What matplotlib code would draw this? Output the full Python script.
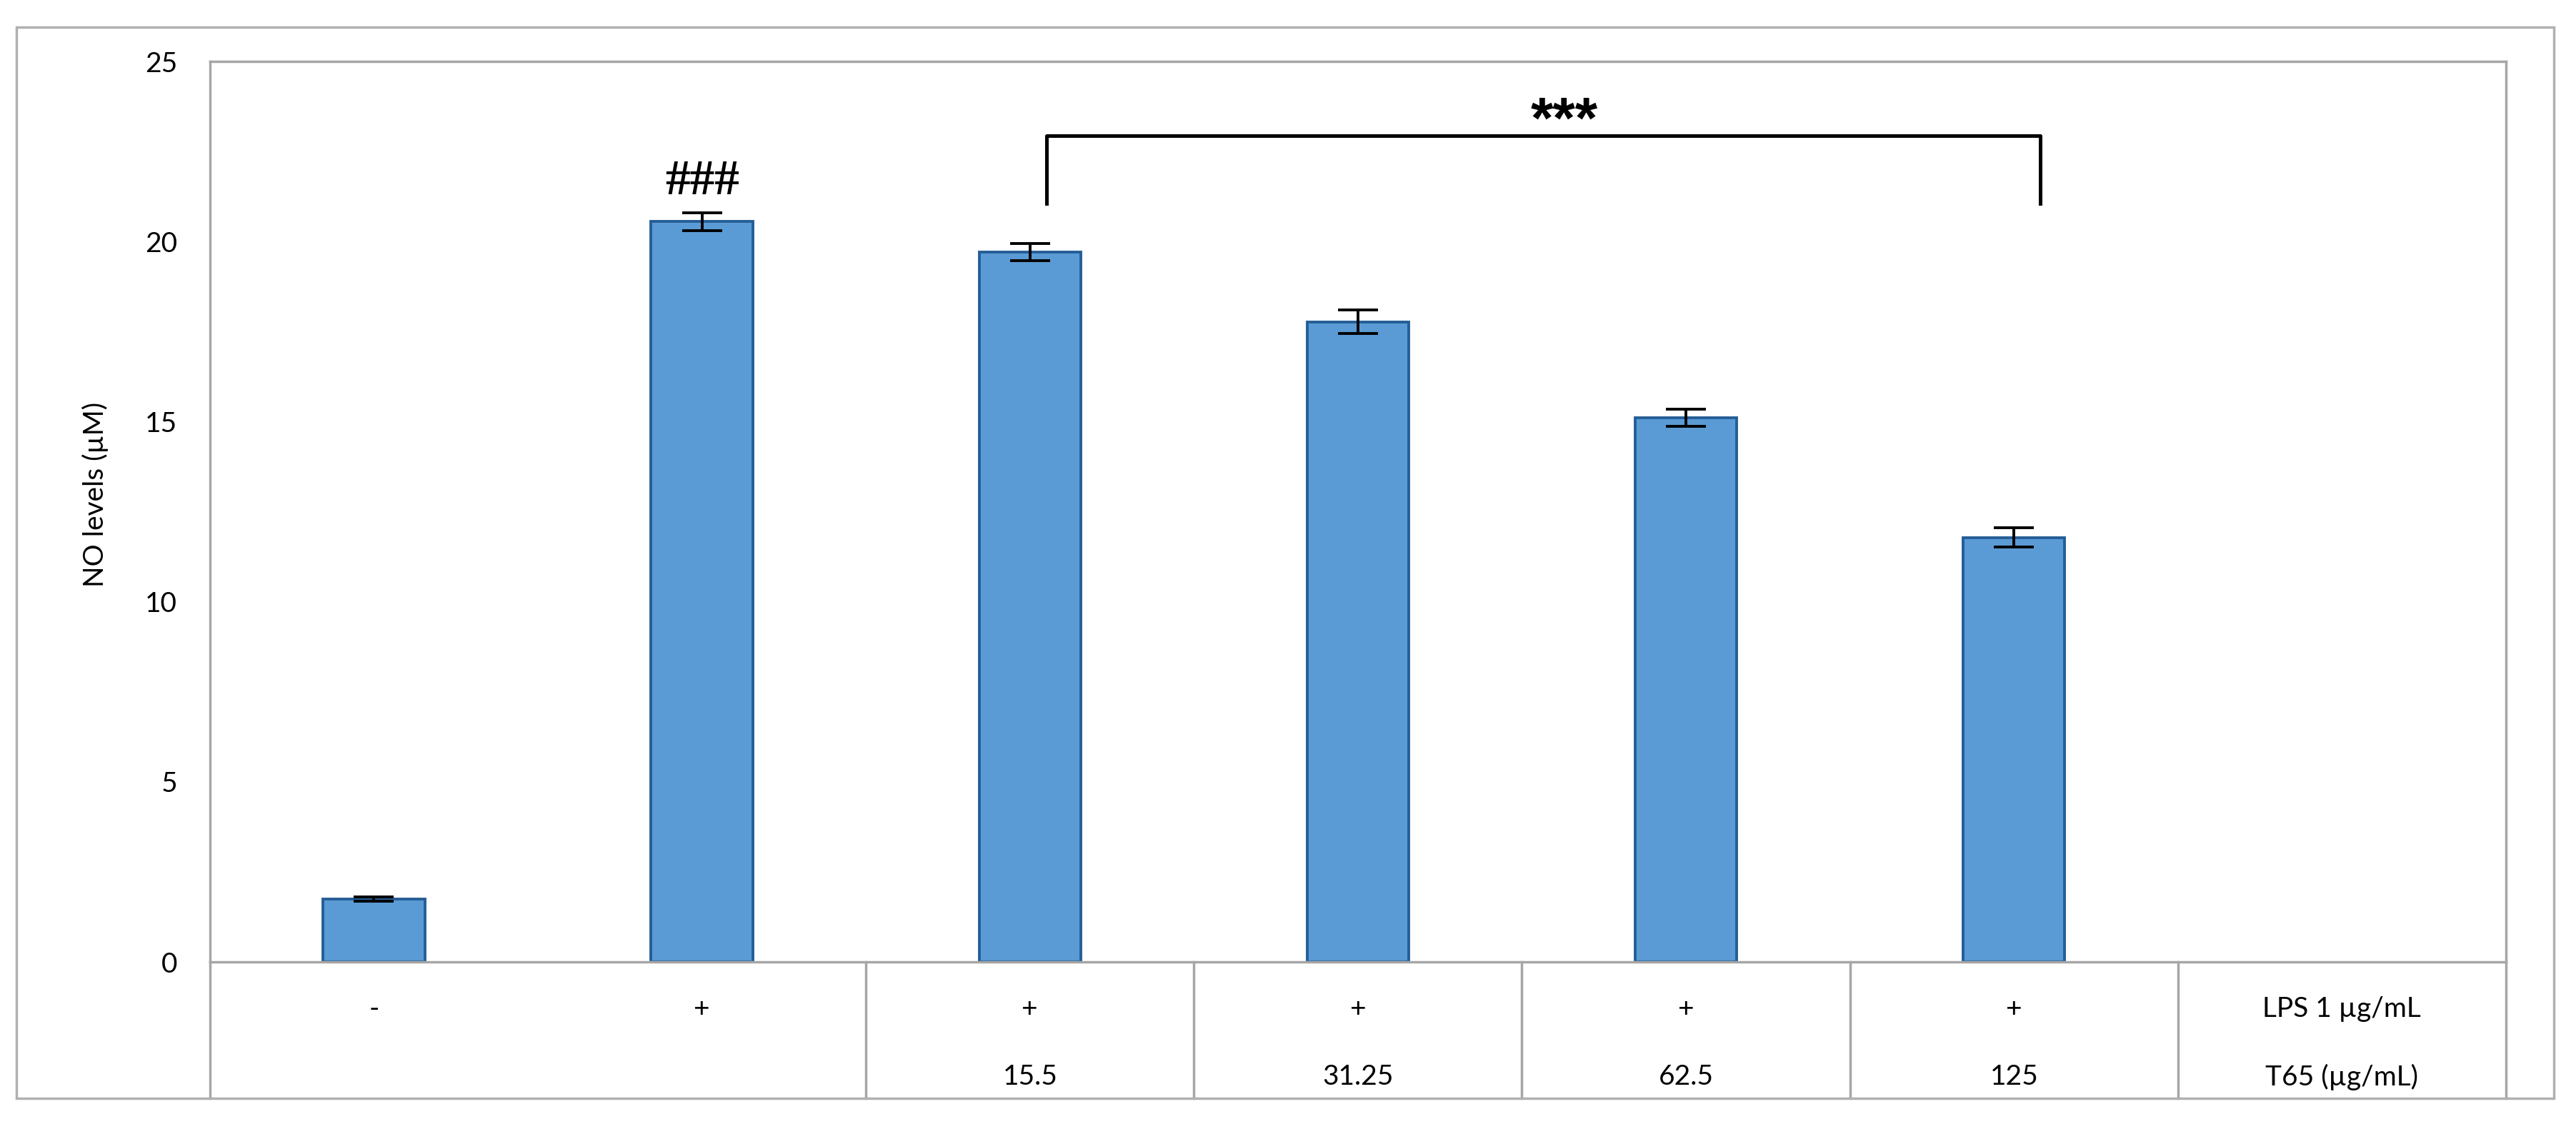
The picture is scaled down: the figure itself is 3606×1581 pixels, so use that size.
import numpy as np
import matplotlib.pyplot as plt
from matplotlib.patches import Rectangle

# data
lps_row = ['-', '+', '+', '+', '+', '+']
t65_row = ['', '', '15.5', '31.25', '62.5', '125']
row_titles = ['LPS 1 µg/mL', 'T65 (µg/mL)']
no_levels = [1.75, 20.55, 19.70, 17.77, 15.10, 11.78]
no_err = [0.06, 0.25, 0.24, 0.33, 0.24, 0.27]
y_ticks = [0, 5, 10, 15, 20, 25]

plt.rcParams['font.family'] = ['Lato', 'DejaVu Sans']

fig = plt.figure(figsize=(36.06, 15.81), dpi=100)
ax = fig.add_axes([0.0815, 0.148, 0.8913, 0.7976])

grey = '#A6A6A6'
x = np.arange(len(no_levels))
fs = 28

ax.bar(x, no_levels, width=0.31, color='#5B9BD5', edgecolor='#255E97',
       linewidth=2.8, zorder=2)
ax.errorbar(x, no_levels, yerr=no_err, fmt='none', ecolor='black',
            elinewidth=2.8, capsize=20, capthick=2.8, zorder=3)

ax.set_xlim(-0.5, 6.5)
ax.set_ylim(0, 25)
ax.set_yticks(y_ticks)
ax.set_xticks([])
ax.tick_params(axis='y', length=0, pad=33, labelsize=fs)
for s in ax.spines.values():
    s.set_color(grey)
    s.set_linewidth(2.5)

ax.set_ylabel('NO levels (µM)', fontsize=fs)
ax.yaxis.set_label_coords(-0.0442, 0.519)

# significance marks
ax.text(1, 21.65, '###', ha='center', va='center', fontsize=50,
        family=['Liberation Serif', 'DejaVu Sans'], fontweight='bold')
ax.plot([2.05, 2.05, 5.08, 5.08], [21.05, 22.94, 22.94, 21.05],
        color='black', lw=3.6, clip_on=False, zorder=4)
ax.text(3.63, 23.3, '***', ha='center', va='center', fontsize=58,
        family=['Liberation Sans', 'DejaVu Sans'], fontweight='bold')

# table under the axis
trans = ax.get_xaxis_transform()
tbl_bottom = -0.1515
for xb in [-0.5, 1.5, 2.5, 3.5, 4.5, 5.5, 6.5]:
    ax.plot([xb, xb], [0, tbl_bottom], color=grey, lw=2.5,
            transform=trans, clip_on=False)

for i in range(len(lps_row)):
    ax.text(i, -0.052, lps_row[i], transform=trans, ha='center',
            va='center', fontsize=fs)
    ax.text(i, -0.128, t65_row[i], transform=trans, ha='center',
            va='center', fontsize=fs)
ax.text(6, -0.052, row_titles[0], transform=trans, ha='center',
        va='center', fontsize=fs)
ax.text(6, -0.128, row_titles[1], transform=trans, ha='center',
        va='center', fontsize=fs)

# outer chart border
fig.patches.append(Rectangle((0.0064, 0.027), 0.985, 0.949,
                             transform=fig.transFigure, fill=False,
                             edgecolor='#B0B0B0', linewidth=2.5))

plt.savefig('out.png', dpi=100)
